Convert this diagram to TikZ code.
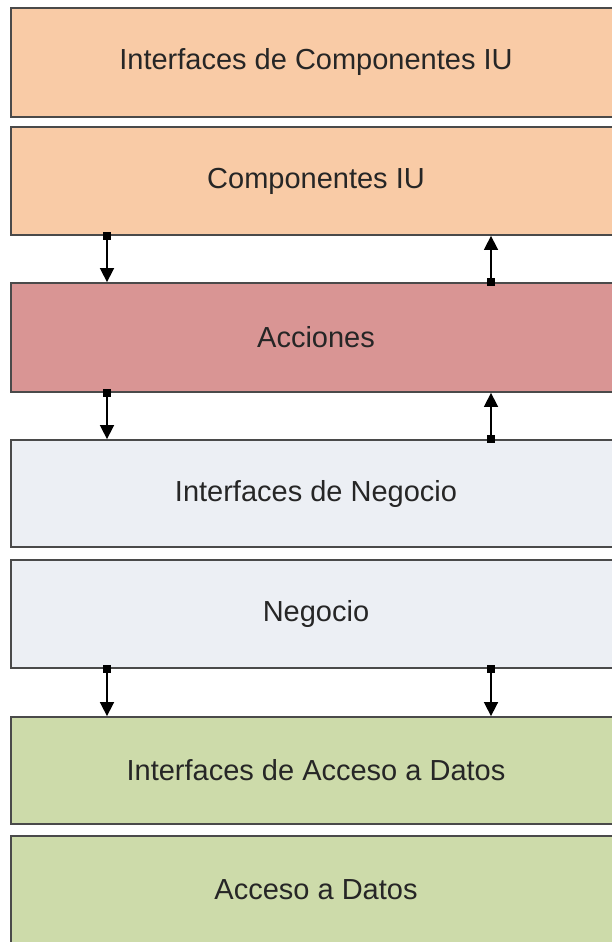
\documentclass[tikz,border=0pt]{standalone}
\usepackage{fontspec}
\setmainfont{Liberation Sans}
\usetikzlibrary{arrows.meta,calc}
\definecolor{peach}{HTML}{F9CBA6}
\definecolor{rose}{HTML}{D99594}
\definecolor{pale}{HTML}{ECEFF4}
\definecolor{sage}{HTML}{CDDBAA}
\definecolor{edge}{HTML}{4A4A4A}
\begin{document}
\begin{tikzpicture}[x=1pt,y=-1pt,
  layer/.style={draw=edge, line width=1.8pt, rectangle, inner sep=0pt,
    minimum width=610pt, font=\fontsize{29}{34}\selectfont, text=black!85},
  conn/.style={line width=1.6pt, draw=black, -{Triangle[width=14pt,length=14pt]}},
  dotsq/.style={fill=black}]
\useasboundingbox (0,0) rectangle (611,942);
\fill[white] (0,0) rectangle (611,942);
\node[layer, fill=peach, minimum height=109pt] (b1) at (316,62.5) {Interfaces de Componentes IU};
\node[layer, fill=peach, minimum height=108pt] (b2) at (316,181) {Componentes IU};
\node[layer, fill=rose, minimum height=109pt] (b3) at (316,337.5) {Acciones};
\node[layer, fill=pale, minimum height=107pt] (b4) at (316,493.5) {Interfaces de Negocio};
\node[layer, fill=pale, minimum height=108pt] (b5) at (316,614) {Negocio};
\node[layer, fill=sage, minimum height=107pt] (b6) at (316,770.5) {Interfaces de Acceso a Datos};
\node[layer, fill=sage, minimum height=108pt] (b7) at (316,890) {Acceso a Datos};
\coordinate (xl) at (107,0);
\coordinate (xr) at (491,0);
% row 1
\draw[conn] (b2.south -| xl) -- (b3.north -| xl);
\fill[dotsq] ($(b2.south -| xl)+(-4,-4)$) rectangle ($(b2.south -| xl)+(4,4)$);
\draw[conn] (b3.north -| xr) -- (b2.south -| xr);
\fill[dotsq] ($(b3.north -| xr)+(-4,-4)$) rectangle ($(b3.north -| xr)+(4,4)$);
% row 2
\draw[conn] (b3.south -| xl) -- (b4.north -| xl);
\fill[dotsq] ($(b3.south -| xl)+(-4,-4)$) rectangle ($(b3.south -| xl)+(4,4)$);
\draw[conn] (b4.north -| xr) -- (b3.south -| xr);
\fill[dotsq] ($(b4.north -| xr)+(-4,-4)$) rectangle ($(b4.north -| xr)+(4,4)$);
% row 3
\draw[conn] (b5.south -| xl) -- (b6.north -| xl);
\fill[dotsq] ($(b5.south -| xl)+(-4,-4)$) rectangle ($(b5.south -| xl)+(4,4)$);
\draw[conn] (b5.south -| xr) -- (b6.north -| xr);
\fill[dotsq] ($(b5.south -| xr)+(-4,-4)$) rectangle ($(b5.south -| xr)+(4,4)$);
\end{tikzpicture}
\end{document}
